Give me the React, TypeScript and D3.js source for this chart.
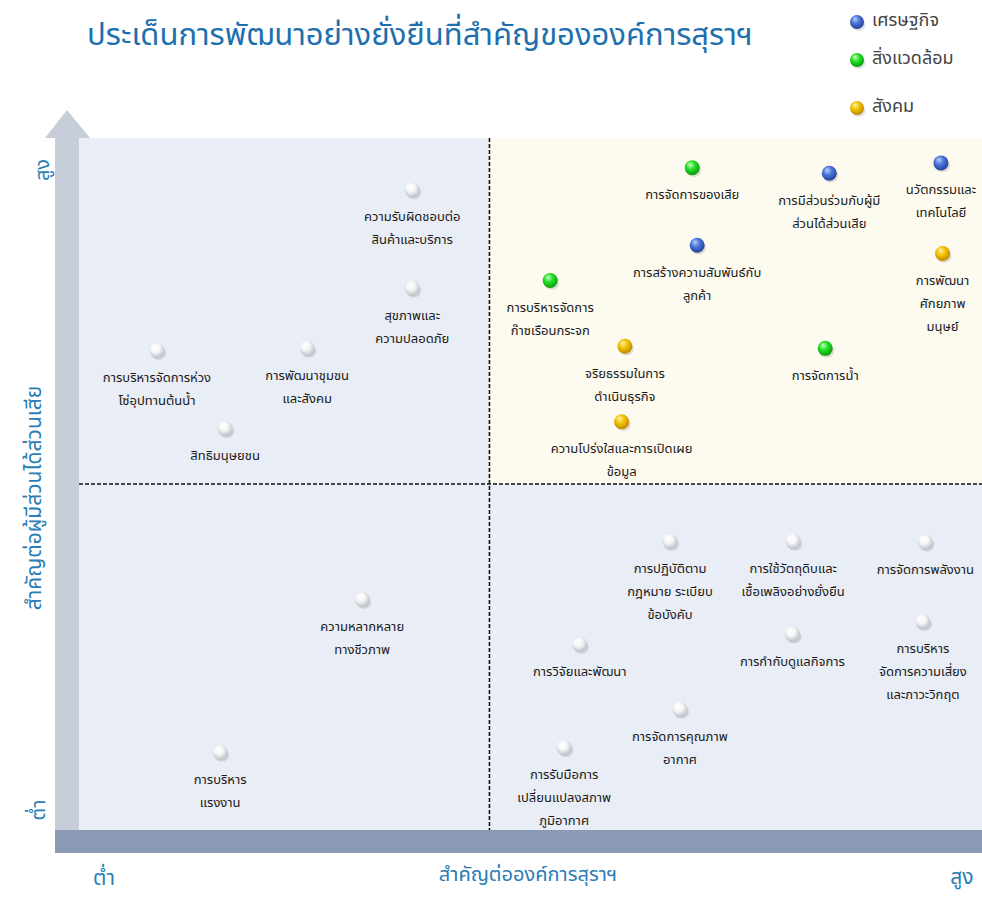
import * as d3 from "d3";

const legendItems = ["เศรษฐกิจ", "สิ่งแวดล้อม", "สังคม"];

const issueLabels = [
  ["ความรับผิดชอบต่อ", "สินค้าและบริการ"],
  ["สุขภาพและ", "ความปลอดภัย"],
  ["การบริหารจัดการห่วง", "โซ่อุปทานต้นน้ำ"],
  ["การพัฒนาชุมชน", "และสังคม"],
  ["สิทธิมนุษยชน"],
  ["การจัดการของเสีย"],
  ["การมีส่วนร่วมกับผู้มี", "ส่วนได้ส่วนเสีย"],
  ["นวัตกรรมและ", "เทคโนโลยี"],
  ["การสร้างความสัมพันธ์กับ", "ลูกค้า"],
  ["การพัฒนา", "ศักยภาพ", "มนุษย์"],
  ["การบริหารจัดการ", "ก๊าซเรือนกระจก"],
  ["จริยธรรมในการ", "ดำเนินธุรกิจ"],
  ["การจัดการน้ำ"],
  ["ความโปร่งใสและการเปิดเผย", "ข้อมูล"],
  ["ความหลากหลาย", "ทางชีวภาพ"],
  ["การบริหาร", "แรงงาน"],
  ["การปฏิบัติตาม", "กฎหมาย ระเบียบ", "ข้อบังคับ"],
  ["การใช้วัตถุดิบและ", "เชื้อเพลิงอย่างยั่งยืน"],
  ["การจัดการพลังงาน"],
  ["การวิจัยและพัฒนา"],
  ["การกำกับดูแลกิจการ"],
  ["การบริหาร", "จัดการความเสี่ยง", "และภาวะวิกฤต"],
  ["การจัดการคุณภาพ", "อากาศ"],
  ["การรับมือการ", "เปลี่ยนแปลงสภาพ", "ภูมิอากาศ"],
];

// importance to the organisation (x) and to stakeholders (y)
const orgImportance = [
  4.06, 4.06, 0.95, 2.78, 1.78, 7.47, 9.14, 10.5, 7.53, 10.52, 5.74, 6.65,
  9.09, 6.61, 3.45, 1.72, 7.2, 8.7, 10.31, 6.1, 8.69, 10.28, 7.32, 5.91,
];
const stakeholderImportance = [
  9.25, 7.83, 6.93, 6.96, 5.8, 9.57, 9.49, 9.64, 8.45, 8.33, 7.94, 6.99,
  6.96, 5.9, 3.33, 1.12, 4.17, 4.17, 4.16, 2.68, 2.83, 3.01, 1.74, 1.19,
];
// 0 economy, 1 environment, 2 social, 3 unclassified (white)
const issueCategory = [
  3, 3, 3, 3, 3, 1, 0, 0, 0, 2, 1, 2, 1, 2, 3, 3, 3, 3, 3, 3, 3, 3, 3, 3,
];

const W = 982;
const H = 901;
const plot = { left: 79, right: 982, top: 138, bottom: 830 };
const thai = "'Noto Sans Thai', 'Loma', 'Garuda', 'Tahoma', sans-serif";

const x = d3.scaleLinear().domain([0, 11]).range([plot.left, plot.right]);
const y = d3.scaleLinear().domain([0, 10]).range([plot.bottom, plot.top]);

const dotColors = [
  { hi: "#b9d0ff", mid: "#4a74d6", lo: "#1d3c95" },
  { hi: "#c9ffc9", mid: "#22e022", lo: "#0b8f0b" },
  { hi: "#fff2a8", mid: "#f2c200", lo: "#b97f00" },
  { hi: "#ffffff", mid: "#f6f6f6", lo: "#b4b8bf" },
];

const points = orgImportance.map((v, i) => ({
  x: v,
  y: stakeholderImportance[i],
  cat: issueCategory[i],
  lines: issueLabels[i],
}));

function Dot({ cx, cy, cat, r = 7.5 }: { cx: number; cy: number; cat: number; r?: number }) {
  return (
    <g>
      <ellipse cx={cx + 1.5} cy={cy + 2.5} rx={r} ry={r * 0.9} fill="#000" opacity={0.12} />
      <circle cx={cx} cy={cy} r={r} fill={`url(#dot${cat})`} />
    </g>
  );
}

export default function App() {
  const midX = x(5);
  const midY = y(5);
  return (
    <div style={{ position: "absolute", left: 0, top: 0 }}>
      <svg width={W} height={H} style={{ display: "block", background: "#fff" }}>
        <defs>
          {dotColors.map((c, i) => (
            <radialGradient key={i} id={`dot${i}`} cx="45%" cy="40%" r="65%" fx="35%" fy="28%">
              <stop offset="0%" stopColor={c.hi} />
              <stop offset="45%" stopColor={c.mid} />
              <stop offset="100%" stopColor={c.lo} />
            </radialGradient>
          ))}
        </defs>

        {/* quadrant backgrounds */}
        <rect x={plot.left} y={plot.top} width={plot.right - plot.left} height={plot.bottom - plot.top} fill="#e9edf5" />
        <rect x={midX} y={plot.top} width={plot.right - midX} height={midY - plot.top} fill="#fdfbef" />

        {/* dashed dividers */}
        <line x1={midX} x2={midX} y1={plot.top} y2={plot.bottom} stroke="#111" strokeWidth={1.6} strokeDasharray="4,2" />
        <line x1={plot.left} x2={plot.right} y1={midY} y2={midY} stroke="#111" strokeWidth={1.6} strokeDasharray="4,2" />

        {/* axes as thick bars */}
        <rect x={55} y={plot.top} width={plot.left - 55} height={plot.bottom - plot.top} fill="#c7ced9" />
        <path d={`M45,${plot.top} L67,110 L90,${plot.top} Z`} fill="#c7ced9" />
        <rect x={55} y={plot.bottom} width={W - 55} height={23} fill="#8a9ab4" />

        {/* title */}
        <text x={420} y={45} textAnchor="middle" fontFamily={thai} fontSize={31} fill="#1d6fae">
          ประเด็นการพัฒนาอย่างยั่งยืนที่สำคัญขององค์การสุราฯ
        </text>

        {/* legend */}
        {legendItems.map((t, i) => {
          const ly = [22, 60, 108][i];
          return (
            <g key={t}>
              <Dot cx={857} cy={ly} cat={i} r={7} />
              <text x={872} y={ly - 2} dy="0.35em" fontFamily={thai} fontSize={18} fill="#444">
                {t}
              </text>
            </g>
          );
        })}

        {/* axis labels */}
        <text transform={`translate(42,170) rotate(-90)`} textAnchor="middle" dy="0.35em" fontFamily={thai} fontSize={20} fill="#2a7db5">
          สูง
        </text>
        <text transform={`translate(38,810) rotate(-90)`} textAnchor="middle" dy="0.35em" fontFamily={thai} fontSize={20} fill="#2a7db5">
          ต่ำ
        </text>
        <text transform={`translate(34,498) rotate(-90)`} textAnchor="middle" dy="0.35em" fontFamily={thai} fontSize={21} fill="#2a7db5">
          สำคัญต่อผู้มีส่วนได้ส่วนเสีย
        </text>
        <text x={104} y={878} textAnchor="middle" dy="0.35em" fontFamily={thai} fontSize={21} fill="#2a7db5">
          ต่ำ
        </text>
        <text x={962} y={877} textAnchor="middle" dy="0.35em" fontFamily={thai} fontSize={21} fill="#2a7db5">
          สูง
        </text>
        <text x={528} y={874} textAnchor="middle" dy="0.35em" fontFamily={thai} fontSize={20} fill="#2a7db5">
          สำคัญต่อองค์การสุราฯ
        </text>

        {/* issues */}
        {points.map((p, i) => (
          <g key={i}>
            <Dot cx={x(p.x)} cy={y(p.y)} cat={p.cat} />
            {p.lines.map((l, j) => (
              <text
                key={j}
                x={x(p.x)}
                y={y(p.y) + 27 + j * 23}
                dy="0.35em"
                textAnchor="middle"
                fontFamily={thai}
                fontSize={13}
                fill="#1a1a1a"
              >
                {l}
              </text>
            ))}
          </g>
        ))}
      </svg>
    </div>
  );
}
